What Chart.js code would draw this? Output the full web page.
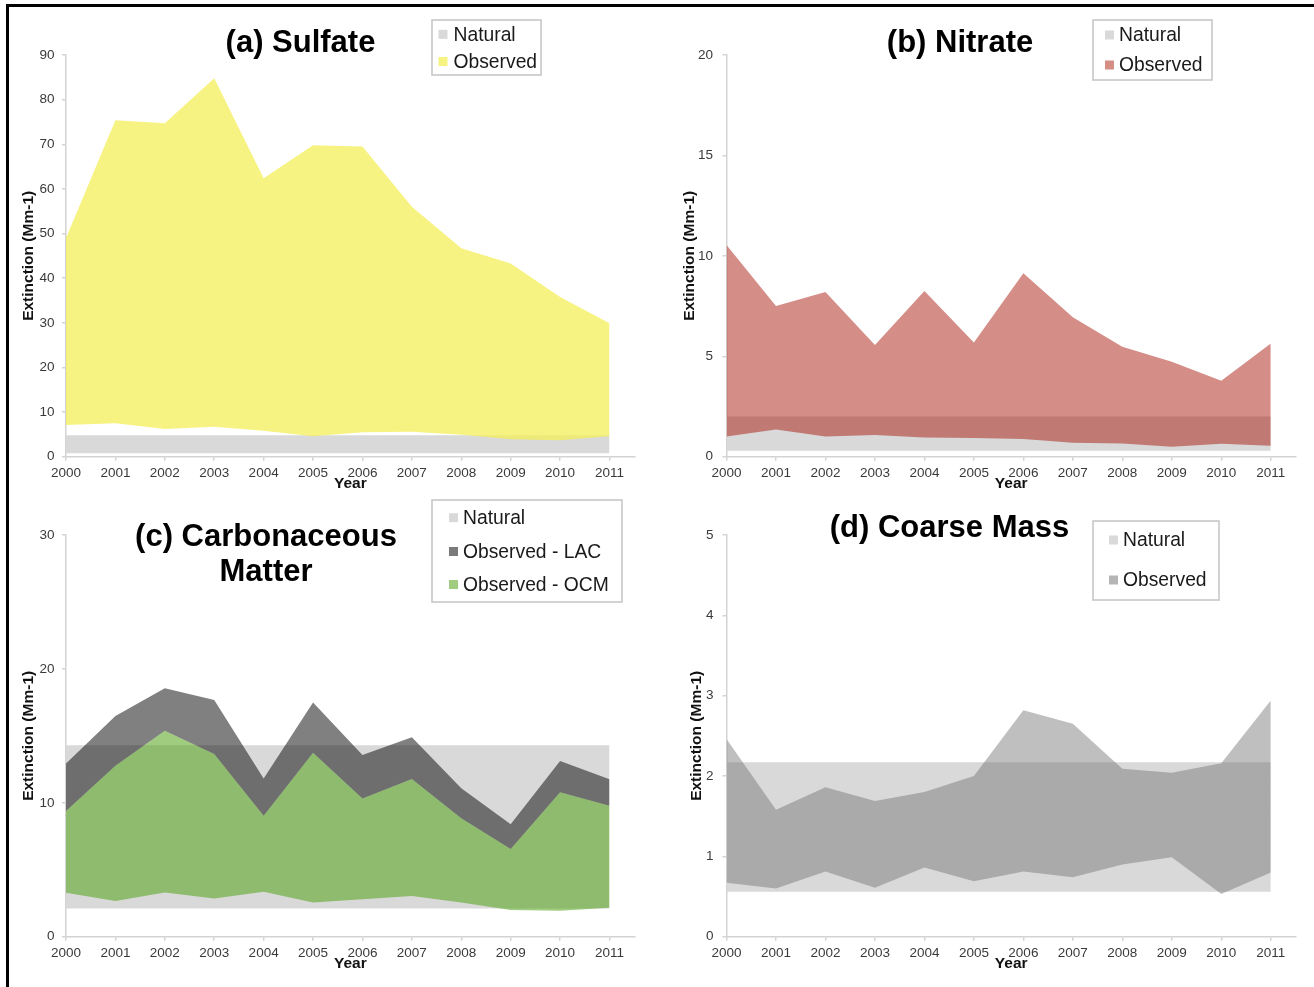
<!DOCTYPE html>
<html>
<head>
<meta charset="utf-8">
<script src="https://cdn.jsdelivr.net/npm/chart.js@4"></script>
<style>
  html, body { margin:0; padding:0; background:#fff; }
  body { width:1314px; height:987px; position:relative; overflow:hidden; }
  #frame { position:absolute; left:6px; top:4px; width:1400px; height:1000px; border-top:3px solid #000; border-left:3px solid #000; box-sizing:border-box; }
  canvas { position:absolute; }
</style>
</head>
<body>
<div id="frame"></div>
<canvas id="cA" width="647" height="487" style="left:10px;top:8px"></canvas>
<canvas id="cB" width="647" height="487" style="left:667px;top:8px"></canvas>
<canvas id="cC" width="647" height="487" style="left:10px;top:498px"></canvas>
<canvas id="cD" width="647" height="487" style="left:667px;top:498px"></canvas>
<script>
// ---------------- DATA ----------------
const years = [2000, 2001, 2002, 2003, 2004, 2005, 2006, 2007, 2008, 2009, 2010, 2011];

const sulfateNatural = [0.75, 4.8];
const sulfateLow  = [7.1, 7.5, 6.2, 6.7, 5.8, 4.6, 5.5, 5.6, 4.9, 3.9, 3.7, 4.6];
const sulfateHigh = [49.0, 75.4, 74.7, 84.8, 62.4, 69.8, 69.5, 56.0, 46.7, 43.3, 35.8, 29.9];

const nitrateNatural = [0.3, 2.0];
const nitrateLow  = [1.0, 1.36, 1.0, 1.08, 0.95, 0.93, 0.88, 0.70, 0.66, 0.50, 0.65, 0.55];
const nitrateHigh = [10.54, 7.5, 8.2, 5.56, 8.25, 5.68, 9.13, 6.94, 5.48, 4.73, 3.78, 5.64];

const carbNatural = [2.1, 14.3];
const ocmLow  = [3.29, 2.66, 3.31, 2.86, 3.36, 2.56, 2.79, 3.04, 2.56, 1.99, 1.94, 2.17];
const ocmHigh = [9.39, 12.77, 15.38, 13.64, 9.04, 13.74, 10.33, 11.77, 8.84, 6.55, 10.78, 9.78];
const lacHigh = [12.94, 16.48, 18.55, 17.67, 11.82, 17.5, 13.57, 14.89, 11.08, 8.39, 13.12, 11.75];

const coarseNatural = [0.56, 2.17];
const coarseLow  = [0.67, 0.60, 0.81, 0.61, 0.86, 0.69, 0.81, 0.74, 0.90, 0.99, 0.53, 0.80];
const coarseHigh = [2.46, 1.58, 1.86, 1.69, 1.80, 2.0, 2.82, 2.65, 2.09, 2.04, 2.16, 2.94];

const titleA = ['(a) Sulfate'];
const titleB = ['(b) Nitrate'];
const titleC = ['(c) Carbonaceous', 'Matter'];
const titleD = ['(d) Coarse Mass'];

const yTicksA = [0, 90, 10];
const yTicksB = [0, 20, 5];
const yTicksC = [0, 30, 10];
const yTicksD = [0, 5, 1];

// ---------------- HELPERS ----------------
const FONT = '"Liberation Sans", Arial, Helvetica, sans-serif';
const NAT = '#d9d9d9';
const AXIS = '#d3d3d3';

function pts(vals) { return years.map((y, i) => ({x: y, y: vals[i]})); }

function band(label, lowVals, highVals, color, order, lowIdx, legendColor) {
  return [
    {label: label + '_low', data: pts(lowVals), borderColor: 'rgba(0,0,0,0)', borderWidth: 0,
     pointRadius: 0, fill: false, order: order, tension: 0},
    {label: label, data: pts(highVals), borderColor: 'rgba(0,0,0,0)', borderWidth: 0,
     pointRadius: 0, backgroundColor: color, fill: lowIdx, order: order, tension: 0, legendColor: legendColor}
  ];
}

const decor = {
  id: 'decor',
  afterDraw(chart, args, o) {
    const ctx = chart.ctx;
    ctx.save();
    ctx.fillStyle = '#000';
    ctx.font = 'bold 31px ' + FONT;
    ctx.textAlign = 'center';
    ctx.textBaseline = 'middle';
    o.title.forEach((t, i) => ctx.fillText(t, o.tx - o.ox, o.ty[i] - o.oy));
    const L = o.legend;
    ctx.strokeStyle = '#c4c4c4';
    ctx.lineWidth = 1.5;
    ctx.strokeRect(L.x1 - o.ox, L.y1 - o.oy, L.x2 - L.x1, L.y2 - L.y1);
    ctx.font = '19.3px ' + FONT;
    ctx.textAlign = 'left';
    L.items.forEach(it => {
      const ds = chart.data.datasets[it.ds];
      ctx.fillStyle = ds.legendColor;
      ctx.fillRect(L.sx - o.ox, it.y - o.oy - 4.5, 9, 9);
      ctx.fillStyle = '#1a1a1a';
      ctx.fillText(ds.label, L.tx - o.ox, it.y - o.oy + 1);
    });
    ctx.restore();
  }
};

function makeChart(id, cfg) {
  new Chart(document.getElementById(id), {
    type: 'line',
    data: {datasets: cfg.datasets},
    plugins: [decor],
    options: {
      responsive: false,
      animation: false,
      devicePixelRatio: 1,
      events: [],
      layout: {padding: {left: 0, top: cfg.padTop, right: cfg.padRight, bottom: cfg.padBottom}},
      plugins: {
        legend: {display: false},
        tooltip: {enabled: false},
        filler: {propagate: false},
        decor: cfg.decor
      },
      scales: {
        x: {
          type: 'linear', min: years[0], max: years[years.length - 1] + 0.51,
          afterBuildTicks: s => { s.ticks = years.map(v => ({value: v})); },
          afterFit: s => { s.height = 38; },
          ticks: {callback: v => String(v), maxRotation: 0, autoSkip: false, padding: 4,
                  color: '#3a3a3a', font: {family: FONT, size: 13.5}},
          grid: {drawOnChartArea: false, drawTicks: true, tickLength: 4, color: AXIS, lineWidth: 1.5},
          border: {color: AXIS, width: 1.5},
          title: {display: true, text: 'Year', color: '#111', font: {family: FONT, size: 15.5, weight: 'bold'},
                  padding: {top: 0, bottom: 1.7}}
        },
        y: {
          min: cfg.yt[0], max: cfg.yt[1],
          afterFit: s => { s.width = cfg.yW; },
          ticks: {stepSize: cfg.yt[2], padding: cfg.yTickPad, color: '#3a3a3a', font: {family: FONT, size: 13.5}},
          grid: {drawOnChartArea: false, drawTicks: true, tickLength: 4, color: AXIS, lineWidth: 1.5},
          border: {color: AXIS, width: 1.5},
          title: {display: true, text: 'Extinction (Mm-1)', color: '#111',
                  font: {family: FONT, size: 15.5, weight: 'bold'}, padding: {top: cfg.yTitlePad, bottom: 0}}
        }
      }
    }
  });
}

// ---------------- (a) Sulfate ----------------
makeChart('cA', {
  datasets: [
    ...band('Natural', years.map(() => sulfateNatural[0]), years.map(() => sulfateNatural[1]), NAT, 2, 0, NAT),
    ...band('Observed', sulfateLow, sulfateHigh, 'rgba(244,239,88,0.75)', 1, 2, '#f7f382')
  ],
  yt: yTicksA, yW: 56, yTickPad: 7.5, yTitlePad: 9.8,
  padTop: 47, padRight: 22.3, padBottom: 0.3,
  decor: {ox: 10, oy: 8, title: titleA, tx: 300.5, ty: [43],
    legend: {x1: 432, y1: 20, x2: 541, y2: 75, sx: 438.5, tx: 453.5,
             items: [{ds: 1, y: 34.3}, {ds: 3, y: 61.5}]}}
});

// ---------------- (b) Nitrate ----------------
makeChart('cB', {
  datasets: [
    ...band('Natural', years.map(() => nitrateNatural[0]), years.map(() => nitrateNatural[1]), NAT, 2, 0, NAT),
    ...band('Observed', nitrateLow, nitrateHigh, 'rgba(164,15,0,0.47)', 1, 2, '#d48e84')
  ],
  yt: yTicksB, yW: 59.5, yTickPad: 9.4, yTitlePad: 13.6,
  padTop: 47, padRight: 18, padBottom: 0.3,
  decor: {ox: 667, oy: 8, title: titleB, tx: 960, ty: [43],
    legend: {x1: 1093, y1: 20, x2: 1212, y2: 80, sx: 1105, tx: 1119,
             items: [{ds: 1, y: 35}, {ds: 3, y: 65}]}}
});

// ---------------- (c) Carbonaceous Matter ----------------
const dsC = [
  ...band('Natural', years.map(() => carbNatural[0]), years.map(() => carbNatural[1]), NAT, 3, 0, NAT),
  ...band('Observed - OCM', ocmLow, ocmHigh, 'rgba(82,162,24,0.55)', 2, 2, '#a0cc80'),
  {label: 'Observed - LAC', data: pts(lacHigh), borderColor: 'rgba(0,0,0,0)', borderWidth: 0, pointRadius: 0,
   backgroundColor: 'rgba(15,15,15,0.53)', fill: 3, order: 1, tension: 0, legendColor: '#7a7a7a'}
];
makeChart('cC', {
  datasets: dsC,
  yt: yTicksC, yW: 56, yTickPad: 7.5, yTitlePad: 9.8,
  padTop: 37, padRight: 22.3, padBottom: 10.3,
  decor: {ox: 10, oy: 498, title: titleC, tx: 266, ty: [537, 572],
    legend: {x1: 432, y1: 500, x2: 622, y2: 602, sx: 449, tx: 463,
             items: [{ds: 1, y: 517.7}, {ds: 4, y: 551.5}, {ds: 3, y: 584.5}]}}
});

// ---------------- (d) Coarse Mass ----------------
makeChart('cD', {
  datasets: [
    ...band('Natural', years.map(() => coarseNatural[0]), years.map(() => coarseNatural[1]), NAT, 2, 0, NAT),
    ...band('Observed', coarseLow, coarseHigh, 'rgba(113,113,113,0.45)', 1, 2, '#b5b5b5')
  ],
  yt: yTicksD, yW: 59.5, yTickPad: 9, yTitlePad: 20.6,
  padTop: 37, padRight: 18, padBottom: 10.3,
  decor: {ox: 667, oy: 498, title: titleD, tx: 949.5, ty: [528],
    legend: {x1: 1093, y1: 521, x2: 1219, y2: 600, sx: 1109, tx: 1123,
             items: [{ds: 1, y: 540}, {ds: 3, y: 580}]}}
});
</script>
</body>
</html>
